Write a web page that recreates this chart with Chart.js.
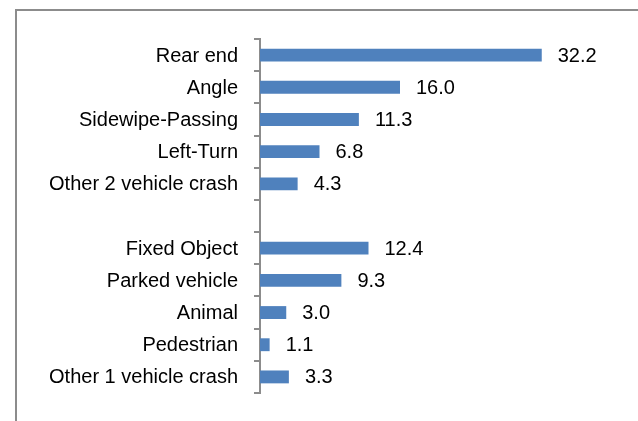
<!DOCTYPE html>
<html>
<head>
<meta charset="utf-8">
<script src="https://cdn.jsdelivr.net/npm/chart.js@4.4.1/dist/chart.umd.min.js"></script>
<style>
  html, body { margin: 0; padding: 0; background: #fff; overflow: hidden; }
  #wrap { position: relative; width: 638px; height: 421px; }
  #frame { position: absolute; left: 15px; top: 9px; width: 700px; height: 500px; border: 2px solid #8c8c8c; box-sizing: border-box; }
  canvas { position: absolute; left: 0; top: 0; }
</style>
</head>
<body>
<div id="wrap">
  <div id="frame"></div>
  <canvas id="c" width="638" height="421"></canvas>
</div>
<script>
const categories = [
  "Rear end", "Angle", "Sidewipe-Passing", "Left-Turn", "Other 2 vehicle crash",
  "",
  "Fixed Object", "Parked vehicle", "Animal", "Pedestrian", "Other 1 vehicle crash"
];
const percentValues = [32.2, 16.0, 11.3, 6.8, 4.3, null, 12.4, 9.3, 3.0, 1.1, 3.3];
const xMin = 0;
const xMax = 40;

const FONT = "'Liberation Sans', Arial, sans-serif";

const valueLabels = {
  id: 'valueLabels',
  afterDatasetsDraw(chart) {
    const ctx = chart.ctx;
    const meta = chart.getDatasetMeta(0);
    ctx.save();
    ctx.font = "20px " + FONT;
    ctx.fillStyle = '#000';
    ctx.textAlign = 'left';
    ctx.textBaseline = 'middle';
    meta.data.forEach((el, i) => {
      const v = chart.data.datasets[0].data[i];
      if (v === null || v === undefined) return;
      ctx.fillText(v.toFixed(1), el.x + 16, el.y + 1);
    });
    ctx.restore();
  }
};

new Chart(document.getElementById('c'), {
  type: 'bar',
  data: {
    labels: categories,
    datasets: [{
      data: percentValues,
      backgroundColor: '#4f81bd',
      borderColor: '#4f81bd',
      borderWidth: 0,
      barPercentage: 0.4,
      categoryPercentage: 1.0
    }]
  },
  options: {
    indexAxis: 'y',
    responsive: false,
    animation: false,
    devicePixelRatio: 1,
    layout: { padding: { left: 0, right: 28, top: 39, bottom: 23 } },
    plugins: { legend: { display: false }, tooltip: { enabled: false }, title: { display: false } },
    scales: {
      x: { display: false, min: xMin, max: xMax },
      y: {
        position: 'left',
        afterFit(scale) { scale.width = 260; },
        grid: { drawOnChartArea: false, offset: true, tickLength: 6, color: '#8c8c8c', lineWidth: 2 },
        border: { display: true, color: '#8c8c8c', width: 2 },
        ticks: { color: '#000', padding: 16, labelOffset: 1, font: { family: FONT, size: 20 } }
      }
    }
  },
  plugins: [valueLabels]
});
</script>
</body>
</html>
